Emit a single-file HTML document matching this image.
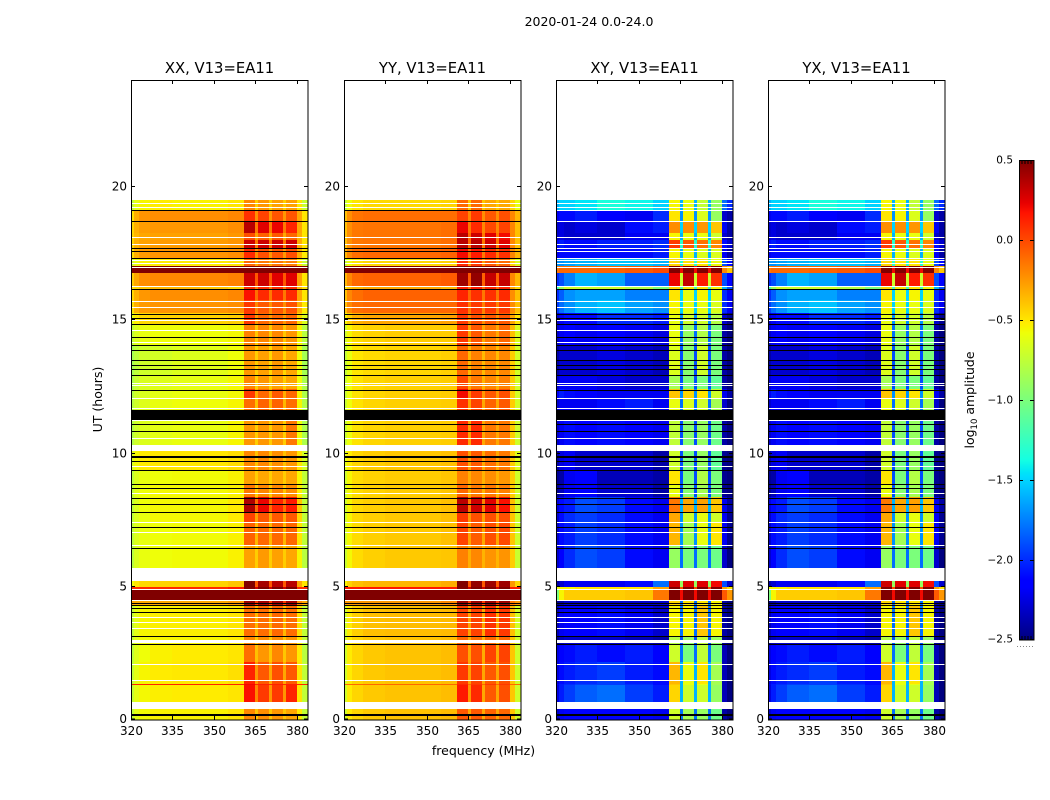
<!DOCTYPE html>
<html>
<head>
<meta charset="utf-8">
<title>2020-01-24 0.0-24.0</title>
<style>
html,body{margin:0;padding:0;background:#fff;}
svg{display:block;font-family:"DejaVu Sans","Liberation Sans",sans-serif;fill:#000;}
</style>
</head>
<body>
<svg id="chart" width="1050" height="800" viewBox="0 0 1050 800" xmlns="http://www.w3.org/2000/svg">
<rect x="0" y="0" width="1050" height="800" fill="#fff"/>
<text x="589" y="26" text-anchor="middle" font-size="12.5">2020-01-24 0.0-24.0</text>
<text x="483.5" y="755" text-anchor="middle" font-size="12.5">frequency (MHz)</text>
<text transform="translate(102,399.5) rotate(-90)" text-anchor="middle" font-size="12.5">UT (hours)</text>
<text transform="translate(974,400) rotate(-90)" text-anchor="middle" font-size="12.5">log<tspan font-size="8.5" dy="3">10</tspan><tspan dy="-3"> amplitude</tspan></text>
</svg>
<script>
// Frequency bin edges (MHz)
const freqEdges = [320,321,323,327,335,345,355,361,365,366,370,371,375,376,380,382,384];
// UT row edges (hours), top of the plot to the bottom
const utEdges = [19.49,19.12,18.71,18.25,17.99,17.69,17.32,17.02,16.75,16.27,16.12,15.74,15.25,14.84,14.05,12.93,12.40,12.06,11.20,10.08,9.36,8.80,8.35,7.79,7.41,6.55,5.20,4.97,4.86,4.48,4.30,3.10,2.80,2.16,1.33,1.29,0.39,0];
// log10 amplitude, one row per UT interval, one value per frequency bin
const xxValues = [
[-.75,-.62,-.55,-.52,-.54,-.54,-.5,-.2,-.42,-.25,-.42,-.28,-.42,-.28,-.5,-.72],
[-.48,-.32,-.24,-.22,-.22,-.22,-.2,.08,-.22,.02,-.25,-.04,-.25,-.04,-.3,-.5],
[-.45,-.33,-.27,-.25,-.25,-.25,-.22,.35,-.15,.25,-.15,.22,-.15,.12,-.3,-.5],
[-.45,-.35,-.3,-.28,-.28,-.28,-.25,-.02,-.28,-.08,-.3,-.05,-.3,-.1,-.32,-.5],
[-.45,-.33,-.28,-.26,-.26,-.26,-.24,.3,-.15,.3,-.15,.3,-.15,.3,-.32,-.5],
[-.48,-.33,-.26,-.24,-.24,-.24,-.22,.1,-.22,-.02,-.25,-.05,-.25,-.02,-.32,-.52],
[-.7,-.6,-.54,-.52,-.52,-.52,-.5,-.1,-.3,-.15,-.3,-.15,-.3,-.18,-.5,-.72],
[.5,.5,.5,.5,.5,.5,.5,.5,.5,.5,.5,.5,.5,.5,.5,.5],
[-.42,-.3,-.22,-.2,-.2,-.2,-.18,.3,-.05,.3,-.05,.25,-.05,.25,-.28,-.5],
[-.5,-.45,-.4,-.35,-.35,-.4,-.45,.1,-.15,.1,-.15,.1,-.15,.1,-.35,-.5],
[-.45,-.33,-.25,-.22,-.22,-.22,-.2,.18,-.12,.1,-.15,.1,-.15,.1,-.3,-.5],
[-.48,-.33,-.26,-.24,-.24,-.24,-.22,.05,-.2,-.05,-.22,-.05,-.22,-.03,-.32,-.52],
[-.62,-.52,-.46,-.44,-.44,-.44,-.42,.05,-.25,-.1,-.25,-.1,-.25,-.1,-.45,-.65],
[-.75,-.65,-.6,-.58,-.58,-.58,-.56,-.18,-.4,-.2,-.4,-.2,-.4,-.25,-.55,-.78],
[-.85,-.76,-.7,-.68,-.65,-.63,-.58,-.25,-.42,-.28,-.45,-.25,-.45,-.3,-.58,-.85],
[-.82,-.72,-.66,-.64,-.62,-.6,-.56,-.2,-.42,-.25,-.42,-.28,-.42,-.3,-.58,-.82],
[-.8,-.7,-.66,-.62,-.6,-.6,-.56,.05,-.3,-.1,-.32,-.05,-.32,-.1,-.55,-.82],
[-.78,-.7,-.64,-.6,-.58,-.58,-.55,-.12,-.38,-.08,-.35,-.08,-.35,-.12,-.55,-.8],
[-.8,-.7,-.65,-.62,-.6,-.6,-.55,-.25,-.42,-.25,-.42,-.25,-.42,-.15,-.58,-.82],
[-.65,-.56,-.52,-.5,-.5,-.5,-.47,-.2,-.38,-.2,-.38,-.22,-.38,-.25,-.5,-.68],
[-.76,-.65,-.6,-.58,-.57,-.57,-.54,-.28,-.42,-.3,-.42,-.3,-.42,-.3,-.55,-.75],
[-.75,-.63,-.58,-.56,-.56,-.56,-.54,-.15,-.4,-.2,-.4,-.2,-.4,-.22,-.52,-.75],
[-.76,-.65,-.58,-.56,-.56,-.56,-.52,.38,-.1,.22,-.12,.12,-.12,.15,-.4,-.75],
[-.76,-.65,-.6,-.56,-.56,-.56,-.52,.02,-.28,-.05,-.3,-.05,-.3,-.05,-.45,-.75],
[-.76,-.65,-.6,-.58,-.57,-.57,-.54,-.08,-.35,-.1,-.35,-.1,-.35,-.1,-.5,-.75],
[-.78,-.66,-.6,-.58,-.57,-.57,-.54,-.28,-.42,-.26,-.42,-.28,-.42,-.3,-.55,-.78],
[-.58,-.5,-.46,-.44,-.44,-.44,-.4,.5,-.05,.4,-.05,.35,-.05,.35,-.3,-.5],
[.1,.1,.1,.1,.1,.1,.15,.5,.3,.5,.3,.5,.3,.5,.1,.1],
[.5,.5,.5,.5,.5,.5,.5,.5,.5,.5,.5,.5,.5,.5,.5,.5],
[-.3,-.3,-.3,-.3,-.3,-.3,-.25,.42,.05,.4,.05,.4,.05,.4,-.2,-.3],
[-.75,-.62,-.55,-.53,-.53,-.53,-.5,-.12,-.35,-.12,-.35,-.1,-.35,-.12,-.48,-.75],
[-.75,-.62,-.57,-.55,-.55,-.55,-.52,-.2,-.4,-.22,-.4,-.22,-.4,-.25,-.5,-.75],
[-.76,-.64,-.58,-.54,-.52,-.52,-.5,-.12,-.38,-.25,-.4,-.2,-.4,-.25,-.52,-.78],
[-.74,-.62,-.55,-.52,-.51,-.51,-.48,.12,-.25,-.05,-.3,-.02,-.3,-.05,-.5,-.75],
[.12,.12,.12,.12,.12,.12,.12,.2,.1,.12,.1,.12,.1,.12,.12,.12],
[-.74,-.62,-.56,-.53,-.52,-.52,-.5,.18,-.2,.05,-.25,.05,-.25,.12,-.5,-.75],
[-.75,-.62,-.56,-.54,-.54,-.54,-.5,-.2,-.4,-.22,-.4,-.25,-.4,-.3,-.52,-.75]
];
const yyValues = [
[-.75,-.58,-.5,-.46,-.46,-.46,-.44,-.1,-.4,-.1,-.4,-.3,-.4,-.3,-.45,-.6],
[-.38,-.22,-.14,-.12,-.12,-.12,-.12,.02,-.2,.05,-.22,-.05,-.22,-.02,-.2,-.35],
[-.38,-.22,-.15,-.14,-.14,-.14,-.12,.22,-.15,.1,-.2,0,-.2,.02,-.2,-.38],
[-.38,-.22,-.15,-.14,-.14,-.14,-.12,.35,-.1,.3,-.15,.25,-.15,.2,-.2,-.38],
[-.38,-.22,-.15,-.14,-.14,-.14,-.12,.35,-.1,.35,-.15,.3,-.15,.25,-.2,-.38],
[-.35,-.2,-.12,-.1,-.1,-.1,-.08,.2,-.1,.15,-.15,.1,-.15,.08,-.2,-.35],
[-.72,-.58,-.5,-.46,-.46,-.46,-.44,.1,-.25,.05,-.25,-.05,-.25,-.1,-.45,-.65],
[.5,.5,.5,.5,.5,.5,.5,.5,.5,.5,.5,.5,.5,.5,.5,.5],
[-.35,-.2,-.1,-.08,-.08,-.08,-.06,.42,-.05,.45,-.08,.32,-.08,.32,-.2,-.35],
[-.5,-.4,-.35,-.3,-.3,-.3,-.35,.15,-.1,.15,-.1,.12,-.1,.12,-.3,-.45],
[-.38,-.2,-.12,-.08,-.08,-.08,-.08,.12,-.1,.08,-.15,.08,-.15,.1,-.22,-.38],
[-.38,-.2,-.12,-.1,-.1,-.1,-.1,.08,-.15,.05,-.18,.05,-.18,.05,-.22,-.38],
[-.55,-.42,-.33,-.3,-.3,-.3,-.28,.05,-.2,-.02,-.22,-.05,-.22,-.05,-.3,-.5],
[-.7,-.55,-.47,-.44,-.42,-.42,-.42,.05,-.3,-.05,-.3,-.15,-.3,-.1,-.38,-.65],
[-.74,-.6,-.5,-.47,-.45,-.45,-.43,-.1,-.35,-.18,-.36,-.2,-.36,-.2,-.42,-.68],
[-.72,-.58,-.49,-.45,-.43,-.43,-.42,0,-.3,-.15,-.34,-.2,-.34,-.18,-.42,-.68],
[-.72,-.58,-.49,-.45,-.43,-.43,-.42,.2,-.2,.05,-.25,-.05,-.25,-.02,-.42,-.68],
[-.72,-.58,-.49,-.45,-.43,-.43,-.42,.08,-.28,.02,-.3,-.08,-.3,-.05,-.42,-.68],
[-.72,-.58,-.49,-.45,-.43,-.43,-.42,.1,-.28,.1,-.3,-.15,-.3,-.15,-.42,-.7],
[-.62,-.52,-.45,-.42,-.4,-.4,-.38,-.02,-.28,-.05,-.3,-.12,-.3,-.15,-.42,-.64],
[-.7,-.55,-.47,-.44,-.42,-.42,-.4,-.18,-.32,-.2,-.34,-.22,-.34,-.25,-.42,-.7],
[-.7,-.55,-.47,-.44,-.42,-.42,-.4,-.1,-.32,-.15,-.34,-.15,-.34,-.18,-.42,-.7],
[-.7,-.55,-.46,-.43,-.41,-.41,-.38,.35,-.15,.3,-.18,.25,-.18,.18,-.38,-.7],
[-.7,-.55,-.46,-.43,-.41,-.41,-.38,.05,-.25,-.02,-.28,-.02,-.28,-.02,-.4,-.7],
[-.7,-.55,-.47,-.43,-.41,-.41,-.38,.02,-.28,-.06,-.3,-.02,-.3,0,-.4,-.7],
[-.72,-.56,-.47,-.43,-.41,-.41,-.4,-.18,-.32,-.2,-.34,-.24,-.34,-.24,-.42,-.72],
[-.55,-.44,-.38,-.35,-.35,-.35,-.32,.5,-.05,.45,-.05,.42,-.05,.42,-.25,-.45],
[.15,.15,.15,.15,.15,.15,.15,.5,.3,.5,.3,.5,.3,.5,.15,.15],
[.5,.5,.5,.5,.5,.5,.5,.5,.5,.5,.5,.5,.5,.5,.5,.5],
[-.25,-.25,-.25,-.25,-.25,-.25,-.2,.42,.05,.42,.05,.42,.05,.42,-.15,-.25],
[-.7,-.52,-.43,-.38,-.37,-.37,-.36,.02,-.28,.02,-.3,.08,-.3,.05,-.38,-.68],
[-.7,-.52,-.45,-.41,-.39,-.39,-.37,-.1,-.32,-.12,-.34,-.1,-.34,-.1,-.4,-.7],
[-.7,-.52,-.45,-.41,-.39,-.39,-.37,-.02,-.3,-.02,-.32,.02,-.32,.02,-.4,-.7],
[-.7,-.52,-.45,-.41,-.39,-.39,-.37,.05,-.28,.02,-.3,-.05,-.3,-.02,-.4,-.7],
[-.1,-.1,-.1,-.1,-.1,-.1,-.1,.1,-.1,.05,-.1,.05,-.1,.05,-.1,-.1],
[-.7,-.52,-.45,-.41,-.39,-.39,-.37,.15,-.25,.1,-.3,-.05,-.3,-.02,-.4,-.7],
[-.7,-.52,-.45,-.41,-.39,-.39,-.37,-.05,-.3,-.05,-.3,-.08,-.3,-.1,-.4,-.7]
];
const xyValues = [
[-1.6,-1.5,-1.5,-1.45,-1.35,-1.4,-1.5,-.55,-1.6,-.6,-1.6,-.75,-1.6,-.9,-1.8,-2.0],
[-2.2,-2.1,-2.1,-2.05,-2.15,-2.2,-2.0,-.5,-1.7,-.55,-1.7,-.65,-1.7,-.9,-2.3,-2.4],
[-2.3,-2.25,-2.3,-2.25,-2.3,-2.1,-2.05,-.22,-1.5,-.22,-1.5,-.25,-1.5,-.4,-2.2,-2.4],
[-2.3,-2.25,-2.3,-2.3,-2.3,-2.2,-2.2,-.55,-1.6,-.6,-1.6,-.6,-1.6,-.7,-2.3,-2.4],
[-2.1,-2.05,-2.1,-2.1,-2.05,-2.05,-2.0,.05,-1.3,-.05,-1.3,-.12,-1.3,-.2,-2.1,-2.3],
[-2.2,-2.1,-2.1,-2.1,-2.1,-2.1,-2.05,-.55,-1.6,-.6,-1.6,-.65,-1.6,-.65,-2.2,-2.4],
[-1.7,-1.7,-1.65,-1.6,-1.55,-1.55,-1.6,-.45,-1.3,-.5,-1.3,-.5,-1.3,-.6,-1.9,-2.1],
[-.15,-.1,-.1,-.1,-.08,-.05,0,.5,.2,.5,.2,.5,.2,.5,-.2,-.4],
[-2.0,-1.9,-1.75,-1.6,-1.65,-1.85,-1.85,.22,-.7,.32,-.7,.15,-.7,.08,-1.9,-2.15],
[-1.2,-.9,-.7,-.7,-.7,-.8,-1.0,-.45,-1.2,-.5,-1.2,-.5,-1.2,-.55,-1.6,-1.9],
[-2.0,-1.85,-1.7,-1.65,-1.65,-1.75,-1.75,-.5,-1.5,-.6,-1.5,-.55,-1.5,-.6,-2.0,-2.2],
[-1.95,-1.8,-1.7,-1.6,-1.55,-1.65,-1.7,-.55,-1.5,-.6,-1.5,-.6,-1.5,-.65,-2.0,-2.2],
[-2.3,-2.2,-2.1,-2.1,-2.0,-2.0,-2.05,-.6,-1.7,-.7,-1.7,-.7,-1.7,-.8,-2.3,-2.45],
[-2.3,-2.2,-2.15,-2.2,-2.15,-2.2,-2.25,-.6,-1.8,-.9,-1.8,-.8,-1.8,-1.0,-2.4,-2.5],
[-2.4,-2.3,-2.3,-2.3,-2.25,-2.3,-2.35,-.65,-1.9,-.95,-1.9,-.7,-1.9,-1.0,-2.4,-2.5],
[-2.3,-2.2,-2.2,-2.2,-2.25,-2.3,-2.3,-.85,-1.9,-1.0,-1.9,-1.0,-1.9,-1.1,-2.4,-2.5],
[-2.2,-2.05,-2.1,-2.15,-2.2,-2.2,-2.2,-.4,-1.7,-.45,-1.7,-.5,-1.7,-.7,-2.2,-2.4],
[-2.3,-2.2,-2.2,-2.2,-2.1,-2.05,-2.2,-.6,-1.8,-.65,-1.8,-.7,-1.8,-.85,-2.3,-2.5],
[-2.3,-2.2,-2.1,-2.15,-2.1,-2.15,-2.2,-.75,-1.9,-.95,-1.9,-.9,-1.9,-1.05,-2.4,-2.5],
[-2.4,-2.25,-2.2,-2.3,-2.3,-2.3,-2.4,-.7,-1.9,-1.0,-1.9,-.9,-1.9,-1.1,-2.45,-2.5],
[-2.45,-2.4,-2.2,-2.15,-2.35,-2.35,-2.4,-.5,-1.9,-1.0,-1.9,-.8,-1.9,-1.0,-2.45,-2.5],
[-2.45,-2.35,-2.2,-2.15,-2.3,-2.3,-2.4,-.6,-1.9,-.95,-1.9,-.85,-1.9,-1.0,-2.45,-2.5],
[-2.25,-2.1,-2.05,-1.9,-1.95,-2.1,-2.2,-.15,-1.6,-.3,-1.6,-.28,-1.6,-.4,-2.2,-2.4],
[-2.3,-2.1,-2.0,-1.95,-2.0,-2.1,-2.2,-.3,-1.7,-.7,-1.7,-.6,-1.7,-.7,-2.2,-2.45],
[-2.3,-2.1,-2.05,-1.95,-2.0,-2.1,-2.2,-.35,-1.7,-.85,-1.7,-.6,-1.7,-.5,-2.2,-2.45],
[-2.3,-2.15,-2.0,-1.9,-1.95,-2.1,-2.2,-.9,-1.8,-1.0,-1.8,-1.0,-1.8,-1.05,-2.3,-2.5],
[-2.4,-2.3,-2.2,-2.2,-2.2,-2.1,-1.8,.3,-.9,.25,-.9,.25,-.9,.2,-1.9,-2.3],
[-.6,-.55,-.55,-.5,-.5,-.5,-.3,.5,0,.5,0,.5,0,.5,-.3,-.5],
[-1.0,-.55,-.42,-.42,-.42,-.4,-.15,.5,.2,.5,.2,.5,.2,.5,-.05,-.25],
[-2.45,-2.4,-2.3,-2.3,-2.3,-2.3,-2.3,-.45,-1.8,-.5,-1.8,-.5,-1.8,-.55,-2.4,-2.5],
[-2.35,-2.2,-2.15,-2.15,-2.1,-2.2,-2.3,-.55,-1.8,-.55,-1.8,-.4,-1.8,-.55,-2.4,-2.5],
[-2.45,-2.35,-2.3,-2.3,-2.3,-2.35,-2.4,-.8,-1.9,-.9,-1.9,-.75,-1.9,-.9,-2.45,-2.5],
[-2.25,-2.15,-2.1,-2.05,-2.1,-2.05,-2.15,-.7,-1.8,-1.0,-1.8,-.75,-1.8,-1.0,-2.35,-2.5],
[-2.25,-2.1,-2.05,-2.0,-1.95,-2.05,-2.1,-.35,-1.6,-.6,-1.6,-.5,-1.6,-.85,-2.35,-2.5],
[-2.2,-2.05,-2.0,-1.95,-1.95,-2.0,-2.1,-.4,-1.6,-.6,-1.6,-.6,-1.6,-.85,-2.35,-2.5],
[-2.25,-2.05,-1.95,-1.85,-1.8,-1.95,-2.05,-.45,-1.6,-.7,-1.6,-.7,-1.6,-.9,-2.35,-2.5],
[-2.3,-2.2,-2.15,-2.15,-2.15,-2.15,-2.2,-.7,-1.8,-.85,-1.8,-.9,-1.8,-1.05,-2.4,-2.5]
];
const yxValues = xyValues;
// Flagged time samples, UT hours
const whiteLinesUT = [19.37,19.22,18.09,17.85,17.24,17.14,16.99,16.27,15.70,15.47,14.99,14.60,14.15,12.62,12.54,12.05,11.68,11.23,10.55,8.49,7.40,7.02,6.56,5.67,4.89,4.47,3.86,3.65,3.44,2.07,1.47];
const blackLinesUT = [15.22,15.05,14.84,14.36,14.04,13.88,13.50,13.31,13.16,12.94,12.38,11.09,10.81,9.69,9.36,8.82,8.67,8.32,8.09,7.79,7.22,6.43,4.38,4.30,4.17,4.02,3.12,2.82,16.14];
const crossDependentLinesUT = [19.11,18.71,17.68,17.58,17.30];
const whiteBandsUT = [[19.5,24],[5.19,5.64],[0.38,0.67],[10.08,10.30],[2.87,2.98],[9.46,9.51]];
const blackBandsUT = [[11.23,11.61],[0.13,0.20],[9.83,9.88]];
// Axis definitions
const panelTitles = ["XX, V13=EA11","YY, V13=EA11","XY, V13=EA11","YX, V13=EA11"];
const panelData = [xxValues,yyValues,xyValues,yxValues];
const freqTicks = [320,335,350,365,380];
const utTicks = [0,5,10,15,20];
const colorTicks = [0.5,0,-0.5,-1,-1.5,-2,-2.5];
const colorTickLabels = ["0.5","0.0","\u22120.5","\u22121.0","\u22121.5","\u22122.0","\u22122.5"];

const NS = "http://www.w3.org/2000/svg";
const svg = document.getElementById("chart");
const panelLeft = [131,344,556,768];
const panelWidth = 177;
const plotTop = 80, plotBottom = 720;
const vMin = -2.5, vMax = 0.5;
function yOf(ut){ return plotBottom - 0.5 - (ut/24)*(plotBottom-plotTop-0.4); }
function xOf(p,f){ return panelLeft[p] + (f-320)/64*panelWidth; }
function lerp(stops,t){
  for(let i=1;i<stops.length;i++){
    if(t<=stops[i][0]){
      const a=stops[i-1],b=stops[i];
      return a[1]+(b[1]-a[1])*(t-a[0])/(b[0]-a[0]);
    }
  }
  return stops[stops.length-1][1];
}
const jetR=[[0,0],[.35,0],[.66,1],[.89,1],[1,.5]];
const jetG=[[0,0],[.125,0],[.375,1],[.64,1],[.91,0],[1,0]];
const jetB=[[0,.5],[.11,1],[.34,1],[.65,0],[1,0]];
function jet(v){
  const t=Math.max(0,Math.min(1,(v-vMin)/(vMax-vMin)));
  const c=s=>Math.round(255*lerp(s,t));
  return "rgb("+c(jetR)+","+c(jetG)+","+c(jetB)+")";
}
function mk(tag,attrs,parent){
  const e=document.createElementNS(NS,tag);
  for(const k in attrs){ e.setAttribute(k,attrs[k]); }
  (parent||svg).appendChild(e);
  return e;
}

panelTitles.forEach(function(title,p){
  const g=mk("g",{});
  
  
  const x0=panelLeft[p], x1=x0+panelWidth;
  const rows=panelData[p];
  rows.forEach(function(row,r){
    row.forEach(function(v,c){
      const xa=Math.round(xOf(p,freqEdges[c])), xb=Math.round(xOf(p,freqEdges[c+1]));
      const ya=Math.round(yOf(utEdges[r])), yb=Math.round(yOf(utEdges[r+1]));
      const cell=mk("rect",{x:xa,y:ya,width:xb-xa,height:yb-ya,fill:jet(v),"shape-rendering":"crispEdges"},g);
      
      
    });
  });
  function hline(ut,color,name){
    const l=mk("rect",{x:x0,y:Math.round(yOf(ut)),width:panelWidth,height:1,fill:color,"shape-rendering":"crispEdges"},g);
    
    
  }
  function band(b,color,name){
    const ya=Math.round(yOf(b[1])), yb=Math.round(yOf(b[0]));
    const l=mk("rect",{x:x0,y:ya,width:panelWidth,height:yb-ya,fill:color,"shape-rendering":"crispEdges"},g);
    
    
  }
  whiteBandsUT.forEach(function(b){ band(b,"#fff","missing-data-band"); });
  whiteLinesUT.forEach(function(u){ hline(u,"#fff","missing-data-line"); });
  crossDependentLinesUT.forEach(function(u){ hline(u,p<2?"#000":"#fff","flagged-line"); });
  blackLinesUT.forEach(function(u){ hline(u,"#000","flagged-line"); });
  blackBandsUT.forEach(function(b){ band(b,"#000","flagged-band"); });

  const frame=mk("rect",{x:x0+0.5,y:plotTop+0.5,width:panelWidth-0.5,height:plotBottom-plotTop-0.5,fill:"none",stroke:"#000","stroke-width":1},g);
  
  

  const t=mk("text",{x:x0+panelWidth/2,y:73,"text-anchor":"middle","font-size":14.8},g);
  t.textContent=title;
  
  

  freqTicks.forEach(function(f){
    const x=Math.round(xOf(p,f))+0.5;
    const a=mk("path",{d:"M"+x+" "+plotTop+"v4M"+x+" "+plotBottom+"v-4",stroke:"#000","stroke-width":1,fill:"none"},g);
    
    
    const lbl=mk("text",{x:x,y:735,"text-anchor":"middle","font-size":12},g);
    lbl.textContent=String(f);
    
    
  });
  utTicks.forEach(function(u){
    const y=Math.floor(yOf(u))+(u===0?0:0.5);
    const a=mk("path",{d:"M"+x0+" "+y+"h4M"+x1+" "+y+"h-4",stroke:"#000","stroke-width":1,fill:"none"},g);
    
    
    const lbl=mk("text",{x:x0-4,y:y+4,"text-anchor":"end","font-size":12},g);
    lbl.textContent=String(u);
    
    
  });
});

// Colorbar
const cbLeft=1019, cbWidth=15, cbTop=160, cbBottom=640;
function cbY(v){ return cbBottom-(v-vMin)/(vMax-vMin)*(cbBottom-cbTop); }
const cb=mk("g",{});


for(let i=0;i<cbBottom-cbTop;i++){
  const v=vMin+(i+0.5)/(cbBottom-cbTop)*(vMax-vMin);
  const s=mk("rect",{x:cbLeft,y:cbBottom-i-1,width:cbWidth,height:1,fill:jet(v),"shape-rendering":"crispEdges"},cb);
  
  
}
const cbFrame=mk("rect",{x:cbLeft+0.5,y:cbTop+0.5,width:cbWidth-0.5,height:cbBottom-cbTop-0.5,fill:"none",stroke:"#000","stroke-width":1},cb);


colorTicks.forEach(function(v,i){
  const y=Math.min(Math.round(cbY(v))+0.5,cbBottom-0.5);
  const a=mk("path",{d:"M"+cbLeft+" "+y+"h4M"+(cbLeft+cbWidth)+" "+y+"h-4",stroke:"#000","stroke-width":1,fill:"none"},cb);
  
  
  const lbl=mk("text",{x:1013,y:y+3,"text-anchor":"end","font-size":10.5},cb);
  lbl.textContent=colorTickLabels[i];
  
  
});
const cbEnds=mk("path",{d:"M1022 160v4M1025 160v4M1028 160v4M1031 160v4M1022 640v-4M1025 640v-4M1028 640v-4M1031 640v-4",stroke:"#000","stroke-width":1,fill:"none"},cb);


const cbDots=mk("line",{x1:1017,x2:1034,y1:646.5,y2:646.5,stroke:"#888","stroke-width":1,"stroke-dasharray":"1 2"},cb);


</script>
</body>
</html>
